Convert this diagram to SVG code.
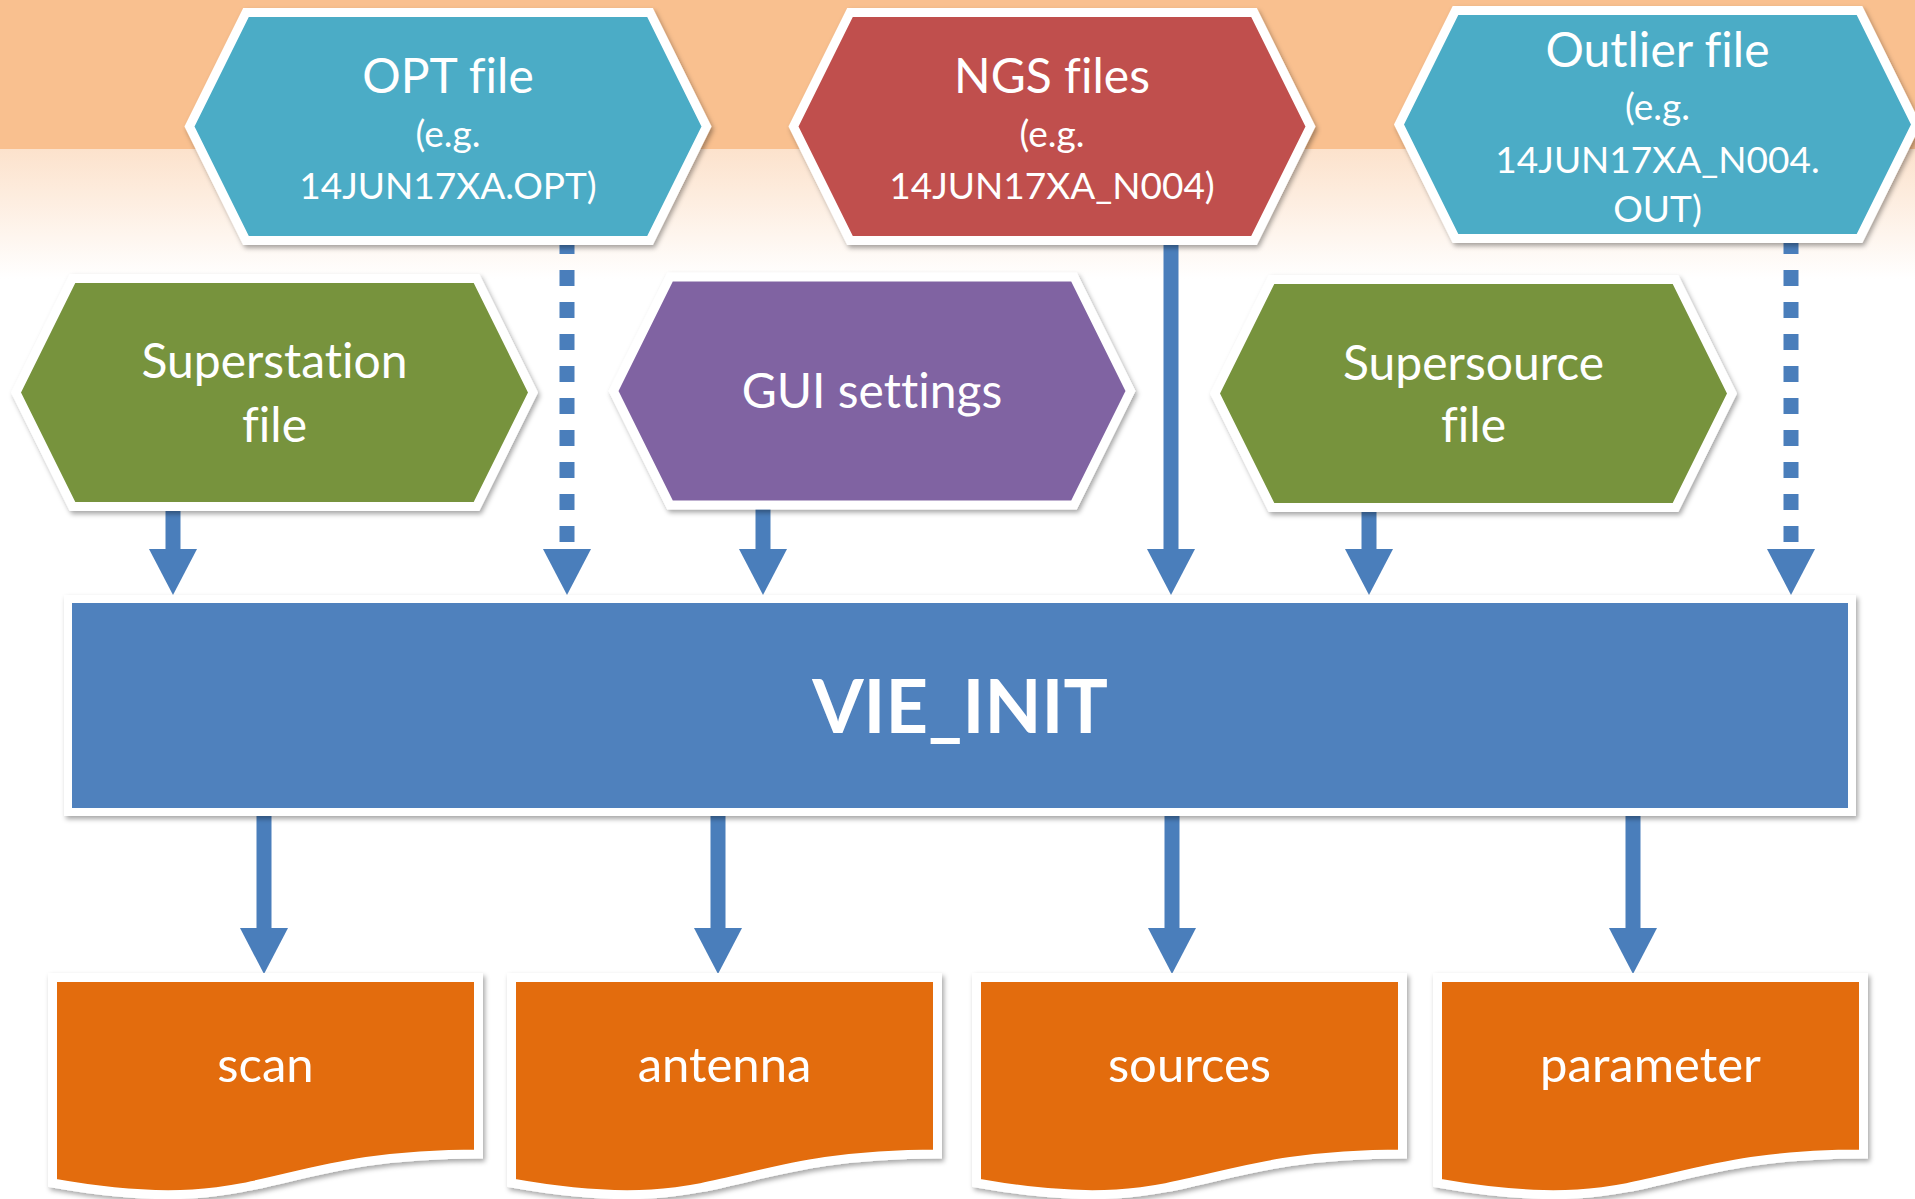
<svg xmlns="http://www.w3.org/2000/svg" xmlns:xlink="http://www.w3.org/1999/xlink" width="1915" height="1199" viewBox="0 0 1915 1199">
<style>
.node{stroke:#fff;stroke-width:9;stroke-linejoin:miter;filter:url(#sh)}
.teal{fill:#4BACC6}.red{fill:#C0504D}.green{fill:#77933C}.purple{fill:#8064A2}.blue{fill:#4F81BD}.orange{fill:#E36C0A}
text{font-family:Lato,"Open Sans","Liberation Sans",sans-serif;fill:#fff;text-anchor:middle;font-variant-ligatures:none;font-feature-settings:"liga" 0}
.t1{font-size:48px}.t2{font-size:37px}.t3{font-size:49px}
.big{font-size:74px;font-weight:bold}
.shaft{stroke:#4A7EBB;stroke-width:15;fill:none}
.dot{stroke-dasharray:16 16}
</style>
<defs>
<linearGradient id="bg" x1="0" y1="0" x2="0" y2="1">
<stop offset="0" stop-color="#FCE2CC"/>
<stop offset="1" stop-color="#FFFFFF"/>
</linearGradient>
<filter id="sh" x="-10%" y="-10%" width="120%" height="130%">
<feDropShadow dx="2" dy="3" stdDeviation="2.5" flood-color="#000" flood-opacity="0.35"/>
</filter>
<polygon id="hex" points="-258.5,0 -202,-114 202,-114 258.5,0 202,114 -202,114"/>
<path id="doc" d="M0,0 H426 V176.4 C213,176.4 213,243.6 0,205.5 Z"/>
<marker id="ah" viewBox="0 0 46 48" refX="0" refY="24" markerWidth="46" markerHeight="48" markerUnits="userSpaceOnUse" orient="auto">
<path d="M0,0 L46,24 L0,48 Z" fill="#4A7EBB"/>
</marker>
</defs>
<rect x="0" y="0" width="1915" height="1199" fill="#fff"/>
<rect x="0" y="0" width="1915" height="149" fill="#F9C08F"/>
<rect x="0" y="149" width="1915" height="130" fill="url(#bg)"/>

<g id="connectors">
<line class="shaft" x1="173" y1="495" x2="173" y2="549" marker-end="url(#ah)"/>
<line class="shaft dot" x1="567" y1="238" x2="567" y2="549" marker-end="url(#ah)"/>
<line class="shaft" x1="763" y1="495" x2="763" y2="549" marker-end="url(#ah)"/>
<line class="shaft" x1="1171" y1="235" x2="1171" y2="549" marker-end="url(#ah)"/>
<line class="shaft" x1="1369" y1="495" x2="1369" y2="549" marker-end="url(#ah)"/>
<line class="shaft dot" x1="1791" y1="238" x2="1791" y2="549" marker-end="url(#ah)"/>
<line class="shaft" x1="264" y1="805" x2="264" y2="928" marker-end="url(#ah)"/>
<line class="shaft" x1="718" y1="805" x2="718" y2="928" marker-end="url(#ah)"/>
<line class="shaft" x1="1172" y1="805" x2="1172" y2="928" marker-end="url(#ah)"/>
<line class="shaft" x1="1633" y1="805" x2="1633" y2="928" marker-end="url(#ah)"/>
</g>

<g id="opt" transform="translate(448,126.5)">
<use xlink:href="#hex" class="node teal"/>
<text class="t1" y="-33.5">OPT file</text>
<text class="t2" y="20.5">(e.g.</text>
<text class="t2" y="72.5">14JUN17XA.OPT)</text>
</g>
<g id="ngs" transform="translate(1052,126.5)">
<use xlink:href="#hex" class="node red"/>
<text class="t1" y="-33.5">NGS files</text>
<text class="t2" y="20.5">(e.g.</text>
<text class="t2" y="72.5">14JUN17XA_N004)</text>
</g>
<g id="outlier" transform="translate(1657.5,124.5)">
<use xlink:href="#hex" class="node teal"/>
<text class="t1" y="-57.5">Outlier file</text>
<text class="t2" y="-4.5">(e.g.</text>
<text class="t2" y="48.5">14JUN17XA_N004.</text>
<text class="t2" y="97.5">OUT)</text>
</g>
<g id="superstation" transform="translate(274.5,392.5)">
<use xlink:href="#hex" class="node green"/>
<text class="t1" y="-14.5">Superstation</text>
<text class="t1" y="49.5">file</text>
</g>
<g id="gui" transform="translate(872,391)">
<use xlink:href="#hex" class="node purple"/>
<text class="t1" y="17">GUI settings</text>
</g>
<g id="supersource" transform="translate(1473.5,393.5)">
<use xlink:href="#hex" class="node green"/>
<text class="t1" y="-13.5">Supersource</text>
<text class="t1" y="48.5">file</text>
</g>

<g id="vie_init">
<rect x="68" y="599" width="1784" height="213" class="node blue" style="stroke-width:8"/>
<text class="big" x="960" y="733">VIE_INIT</text>
</g>

<g id="scan" transform="translate(52.5,977.5)">
<use xlink:href="#doc" class="node orange"/>
<text class="t3" x="213" y="104.5">scan</text>
</g>
<g id="antenna" transform="translate(511.5,977.5)">
<use xlink:href="#doc" class="node orange"/>
<text class="t3" x="213" y="104.5">antenna</text>
</g>
<g id="sources" transform="translate(976.5,977.5)">
<use xlink:href="#doc" class="node orange"/>
<text class="t3" x="213" y="104.5">sources</text>
</g>
<g id="parameter" transform="translate(1437.5,977.5)">
<use xlink:href="#doc" class="node orange"/>
<text class="t3" x="213" y="104.5">parameter</text>
</g>
</svg>
